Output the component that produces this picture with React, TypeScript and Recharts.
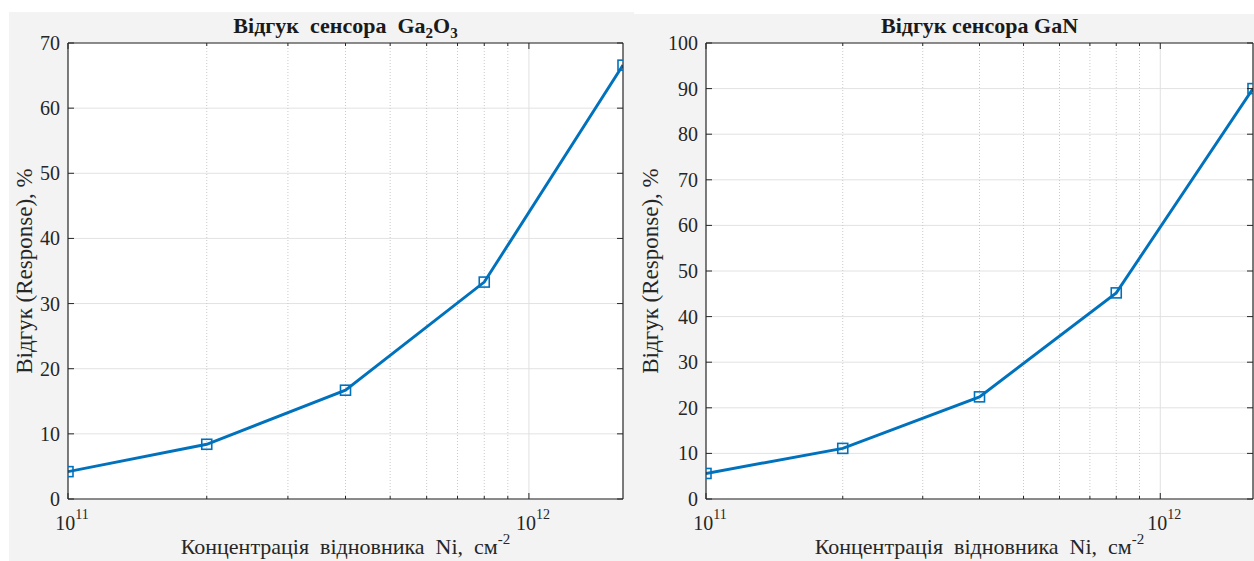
import React from 'react';
import { LineChart, Line, XAxis, YAxis, CartesianGrid, ReferenceLine } from 'recharts';

const X_VALUES = [1e11, 2e11, 4e11, 8e11, 1.6e12];
const GA2O3_RESPONSE = [4.2, 8.4, 16.7, 33.3, 66.6];
const GAN_RESPONSE = [5.6, 11.1, 22.4, 45.2, 90.0];
const X_DOMAIN = [1e11, 1.6e12];
const X_MAJOR_TICKS = [1e11, 1e12];
const X_MINOR_TICKS = [2e11, 3e11, 4e11, 5e11, 6e11, 7e11, 8e11, 9e11];
const X_ALL_TICKS = [1e11, 2e11, 3e11, 4e11, 5e11, 6e11, 7e11, 8e11, 9e11, 1e12];
const GA2O3_Y_TICKS = [0, 10, 20, 30, 40, 50, 60, 70];
const GAN_Y_TICKS = [0, 10, 20, 30, 40, 50, 60, 70, 80, 90, 100];
const Y_LABEL = 'Відгук (Response), %';
const X_LABEL = 'Концентрація  відновника  Ni,  см';

const FONT = '"Liberation Serif", "Times New Roman", serif';
const TEXT = '#262626';
const BLUE = '#0072BD';

const ga2o3Data = X_VALUES.map((x, i) => ({ x, y: GA2O3_RESPONSE[i] }));
const ganData = X_VALUES.map((x, i) => ({ x, y: GAN_RESPONSE[i] }));

const BottomTick = (props: any) => {
  const { x, y, payload } = props;
  const major = X_MAJOR_TICKS.includes(payload.value);
  const len = major ? 6 : 3;
  const exp = Math.round(Math.log10(payload.value));
  return (
    <g>
      <line x1={x} x2={x} y1={y} y2={y - len} stroke={TEXT} strokeWidth={1} />
      {major && (
        <text x={x + 4} y={y + 31} textAnchor="middle" fontFamily={FONT} fontSize={20} fill={TEXT}>
          10
          <tspan dy={-11} fontSize={14}>{exp}</tspan>
        </text>
      )}
    </g>
  );
};

const TopTick = (props: any) => {
  const { x, y, payload } = props;
  const major = X_MAJOR_TICKS.includes(payload.value);
  const len = major ? 6 : 3;
  return <line x1={x} x2={x} y1={y} y2={y + len} stroke={TEXT} strokeWidth={1} />;
};

const LeftTick = (props: any) => {
  const { x, y, payload } = props;
  return (
    <g>
      <line x1={x} x2={x + 6} y1={y} y2={y} stroke={TEXT} strokeWidth={1} />
      <text x={x - 8} y={y + 7} textAnchor="end" fontFamily={FONT} fontSize={20} fill={TEXT}>
        {payload.value}
      </text>
    </g>
  );
};

const RightTick = (props: any) => {
  const { x, y } = props;
  return <line x1={x} x2={x - 6} y1={y} y2={y} stroke={TEXT} strokeWidth={1} />;
};

const SquareDot = (props: any) => {
  const { cx, cy, index } = props;
  if (cx == null || cy == null) return <g key={`d-${index}`} />;
  return (
    <rect
      key={`d-${index}`}
      x={cx - 5}
      y={cy - 5}
      width={10}
      height={10}
      fill="none"
      stroke={BLUE}
      strokeWidth={1.6}
    />
  );
};

type PanelProps = {
  left: number;
  top: number;
  width: number;
  height: number;
  margin: { top: number; right: number; bottom: number; left: number };
  data: { x: number; y: number }[];
  yDomain: number[];
  yTicks: number[];
  title: React.ReactNode;
  titleBaseline: number;
  yLabelX: number;
  xLabelBaseline: number;
};

const AX = 1;

const Panel = (p: PanelProps) => {
  const plotLeft = p.margin.left + AX;
  const plotRight = p.width - p.margin.right - AX;
  const plotTop = p.margin.top + AX;
  const plotBottom = p.height - p.margin.bottom - AX;
  const plotCenterX = (plotLeft + plotRight) / 2;
  const plotCenterY = (plotTop + plotBottom) / 2;
  const axisLine = { stroke: TEXT, strokeWidth: 1.2 };
  return (
    <div
      style={{
        position: 'absolute',
        left: p.left,
        top: p.top,
        width: p.width,
        height: p.height,
        background: '#f3f3f3',
      }}
    >
      <LineChart width={p.width} height={p.height} data={p.data} margin={p.margin}>
        <CartesianGrid fill="#ffffff" stroke="#e2e2e2" vertical={false} />
        {X_MINOR_TICKS.map((v) => (
          <ReferenceLine key={v} x={v} stroke="#c9c9c9" strokeDasharray="1 2" strokeWidth={1} />
        ))}
        <ReferenceLine x={1e12} stroke="#e0e0e0" strokeWidth={1} />
        <XAxis
          dataKey="x"
          type="number"
          scale="log"
          domain={X_DOMAIN}
          ticks={X_ALL_TICKS}
          interval={0}
          allowDataOverflow
          height={AX}
          tickSize={0}
          tickMargin={0}
          tickLine={false}
          axisLine={axisLine}
          tick={<BottomTick />}
        />
        <XAxis
          xAxisId="top"
          orientation="top"
          dataKey="x"
          type="number"
          scale="log"
          domain={X_DOMAIN}
          ticks={X_ALL_TICKS}
          interval={0}
          allowDataOverflow
          height={AX}
          tickSize={0}
          tickMargin={0}
          tickLine={false}
          axisLine={axisLine}
          tick={<TopTick />}
        />
        <YAxis
          type="number"
          domain={p.yDomain}
          ticks={p.yTicks}
          interval={0}
          allowDataOverflow
          width={AX}
          tickSize={0}
          tickMargin={0}
          tickLine={false}
          axisLine={axisLine}
          tick={<LeftTick />}
        />
        <YAxis
          yAxisId="right"
          orientation="right"
          type="number"
          domain={p.yDomain}
          ticks={p.yTicks}
          interval={0}
          allowDataOverflow
          width={AX}
          tickSize={0}
          tickMargin={0}
          tickLine={false}
          axisLine={axisLine}
          tick={<RightTick />}
        />
        <Line
          dataKey="y"
          stroke={BLUE}
          strokeWidth={2.9}
          dot={SquareDot}
          activeDot={false}
          isAnimationActive={false}
        />
      </LineChart>
      <svg
        width={p.width}
        height={p.height}
        style={{ position: 'absolute', left: 0, top: 0, pointerEvents: 'none', overflow: 'visible' }}
      >
        <text
          x={plotCenterX}
          y={p.titleBaseline}
          textAnchor="middle"
          fontFamily={FONT}
          fontWeight="bold"
          fontSize={22}
          fill="#1a1a1a"
          style={{ whiteSpace: 'pre' }}
        >
          {p.title}
        </text>
        <text
          x={p.yLabelX}
          y={plotCenterY}
          textAnchor="middle"
          fontFamily={FONT}
          fontSize={23}
          fill={TEXT}
          transform={`rotate(-90 ${p.yLabelX} ${plotCenterY})`}
        >
          {Y_LABEL}
        </text>
        <text
          x={plotCenterX}
          y={p.xLabelBaseline}
          textAnchor="middle"
          fontFamily={FONT}
          fontSize={22}
          fill={TEXT}
          style={{ whiteSpace: 'pre' }}
        >
          {X_LABEL}
          <tspan dy={-10} fontSize={15}>-2</tspan>
        </text>
      </svg>
    </div>
  );
}

export default function App() {
  return (
    <div
      style={{
        position: 'fixed',
        left: 0,
        top: 0,
        width: 1254,
        height: 561,
        overflow: 'hidden',
        background: '#ffffff',
      }}
    >
      <Panel
        left={9}
        top={12}
        width={625}
        height={549}
        margin={{ top: 30, right: 10, bottom: 61, left: 58 }}
        data={ga2o3Data}
        yDomain={[0, 70]}
        yTicks={GA2O3_Y_TICKS}
        title={
          <>
            {'Відгук  сенсора  Ga'}
            <tspan dy={5} fontSize={15}>2</tspan>
            <tspan dy={-5}>O</tspan>
            <tspan dy={5} fontSize={15}>3</tspan>
          </>
        }
        titleBaseline={21}
        yLabelX={23}
        xLabelBaseline={542}
      />
      <Panel
        left={634}
        top={14}
        width={620}
        height={547}
        margin={{ top: 28, right: 0, bottom: 61, left: 71 }}
        data={ganData}
        yDomain={[0, 100]}
        yTicks={GAN_Y_TICKS}
        title={'Відгук сенсора GaN'}
        titleBaseline={19}
        yLabelX={24}
        xLabelBaseline={540}
      />
    </div>
  );
}
